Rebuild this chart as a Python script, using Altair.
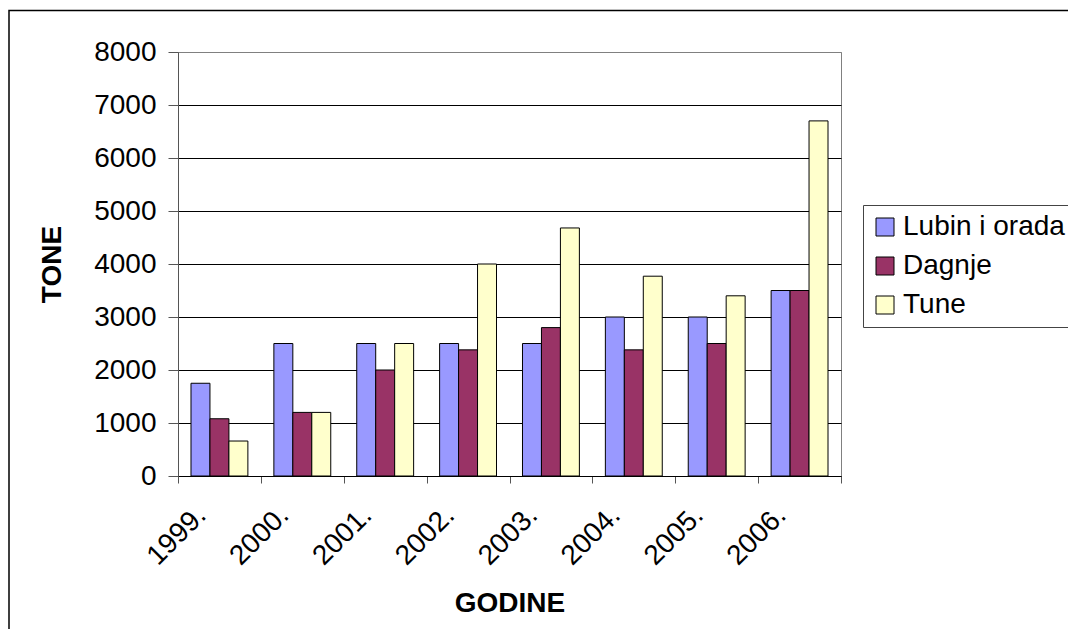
import altair as alt
import pandas as pd

years = ["1999.", "2000.", "2001.", "2002.", "2003.", "2004.", "2005.", "2006."]
lubin = [1750, 2500, 2500, 2500, 2500, 3000, 3000, 3500]
dagnje = [1080, 1200, 2000, 2380, 2800, 2380, 2500, 3500]
tune = [660, 1200, 2500, 4000, 4680, 3770, 3400, 6700]
series = ["Lubin i orada", "Dagnje", "Tune"]
colors = ["#9999FF", "#993366", "#FFFFCC"]
y_ticks = [0, 1000, 2000, 3000, 4000, 5000, 6000, 7000, 8000]

rows = []
for s, vals in zip(series, [lubin, dagnje, tune]):
    for yr, v in zip(years, vals):
        rows.append({"year": yr, "series": s, "value": v})
df = pd.DataFrame(rows)

FONT = "Liberation Sans"
FS = 28

bars = alt.Chart(df).mark_bar(stroke="black", strokeWidth=1).encode(
    x=alt.X(
        "year:N", sort=years,
        scale=alt.Scale(paddingInner=0, paddingOuter=0),
        axis=alt.Axis(
            title="GODINE", labelAngle=-45, labelAlign="right", labelBaseline="top",
            tickBand="extent", tickSize=7, tickColor="#555555", domainColor="#000000",
            labelFontSize=FS, labelFont=FONT, labelColor="black", labelPadding=18,
            labelOffset=-28, titleFontSize=FS, titleFont=FONT, titleFontWeight="bold",
            titleColor="black", titlePadding=19, grid=False,
        ),
    ),
    xOffset=alt.XOffset("series:N", sort=series,
                        scale=alt.Scale(paddingOuter=0.685, paddingInner=0)),
    y=alt.Y(
        "value:Q", scale=alt.Scale(domain=[0, 8000]),
        axis=alt.Axis(
            title="TONE", values=y_ticks, format="d", tickSize=10, tickColor="#555555",
            domainColor="#555555", labelFontSize=FS, labelFont=FONT, labelColor="black",
            labelPadding=12, titleFontSize=FS, titleFont=FONT, titleFontWeight="bold",
            titleColor="black", titlePadding=27,
            gridColor={"condition": {"test": "datum.value >= 8000", "value": "#808080"},
                       "value": "#000000"},
            gridWidth=1, gridOpacity=1,
        ),
    ),
    color=alt.Color(
        "series:N", sort=series,
        scale=alt.Scale(domain=series, range=colors),
        legend=alt.Legend(
            title=None, orient="none", legendX=685, legendY=153,
            strokeColor="#444444", padding=8, symbolType="square", symbolSize=324,
            symbolStrokeColor="black", symbolStrokeWidth=1, symbolOpacity=1,
            labelFontSize=FS, labelFont=FONT, labelColor="black", labelLimit=600,
            rowPadding=11, labelOffset=4,
        ),
    ),
)

frame = alt.Chart(alt.Data(values=[{}])).mark_rect(
    fill="transparent", stroke="black", strokeWidth=1.5
).encode(
    x=alt.value(-169), y=alt.value(-41.5), x2=alt.value(1400), y2=alt.value(1000)
)

chart = alt.layer(bars, frame).properties(
    width=663, height=424,
    autosize=alt.AutoSizeParams(type="none"),
    padding={"left": 170, "top": 44, "right": 227, "bottom": 153},
    background="white",
).configure_view(stroke="#808080", strokeWidth=1)

chart.save("out.html", embed_options={"renderer": "svg", "actions": False})
